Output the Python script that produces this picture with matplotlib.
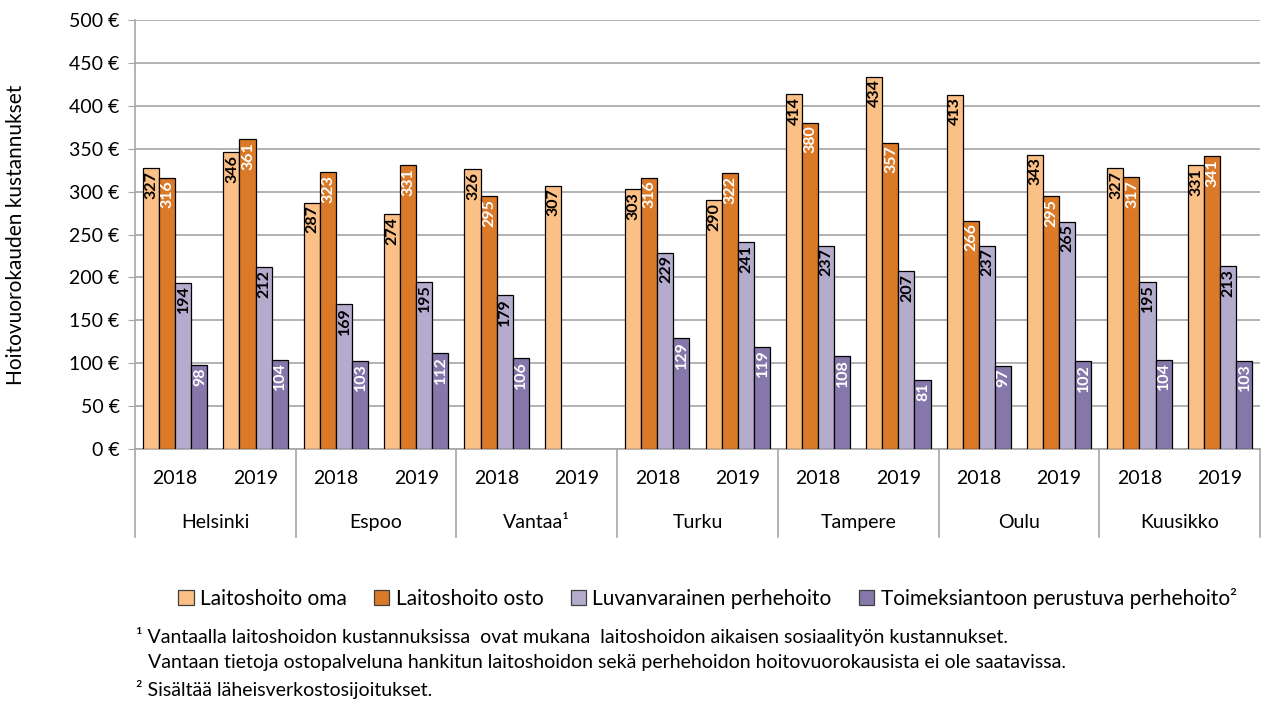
import numpy as np
import matplotlib.pyplot as plt
from matplotlib.transforms import blended_transform_factory
from matplotlib.patches import Patch

# Data
cities = ["Helsinki", "Espoo", "Vantaa¹", "Turku", "Tampere", "Oulu", "Kuusikko"]
years = ["2018", "2019"]
series = ["Laitoshoito oma", "Laitoshoito osto", "Luvanvarainen perhehoito",
          "Toimeksiantoon perustuva perhehoito²"]

# one value per (city, year), in order Helsinki 2018, Helsinki 2019, ...
oma = [327, 346, 287, 274, 326, 307, 303, 290, 414, 434, 413, 343, 327, 331]
osto = [316, 361, 323, 331, 295, np.nan, 316, 322, 380, 357, 266, 295, 317, 341]
luvanvarainen = [194, 212, 169, 195, 179, np.nan, 229, 241, 237, 207, 237, 265, 195, 213]
toimeksianto = [98, 104, 103, 112, 106, np.nan, 129, 119, 108, 81, 97, 102, 104, 103]

colors = ["#FAC086", "#DA7A29", "#B4ABCD", "#8677AB"]
label_colors = ["black", "white", "black", "white"]

plt.rcParams['font.family'] = ['Lato', 'DejaVu Sans']

fig = plt.figure(figsize=(12.63, 7.02), dpi=100)
ax = fig.add_axes([0.1069, 0.3604, 0.8907, 0.6111])

x = np.arange(len(oma))
width = 0.2
all_series = [oma, osto, luvanvarainen, toimeksianto]
for k, vals in enumerate(all_series):
    pos = x + (k - 1.5) * width
    ax.bar(pos, vals, width, color=colors[k], edgecolor="black", linewidth=0.9, zorder=3)
    for px, v in zip(pos, vals):
        if np.isnan(v):
            continue
        ax.annotate(f"{v:.0f}", (px, v), xytext=(0.5, -2), textcoords="offset points",
                    rotation=90, ha="center", va="top", fontsize=11.5,
                    fontweight="bold", color=label_colors[k], zorder=4)

ax.set_xlim(-0.5, len(oma) - 0.5)
ax.set_ylim(0, 500)
ax.set_yticks(range(0, 501, 50))
ax.set_yticklabels([f"{v} €" for v in range(0, 501, 50)])
ax.yaxis.grid(True, color="#A6A6A6", linewidth=1.2, zorder=0)
ax.tick_params(axis="y", labelsize=14, length=5, color="#A6A6A6", pad=6)
ax.set_xticks([])
for s in ["top", "right"]:
    ax.spines[s].set_visible(False)
ax.spines["left"].set_color("#A6A6A6")
ax.spines["bottom"].set_color("#A6A6A6")
ax.spines["left"].set_linewidth(1.2)
ax.spines["bottom"].set_linewidth(1.2)

ax.set_ylabel("Hoitovuorokauden kustannukset", fontsize=15)
ax.yaxis.set_label_coords(-0.097, 0.5)

# two-level category axis
trans = blended_transform_factory(ax.transData, ax.transAxes)
for i in x:
    ax.text(i, -0.068, years[i % 2], transform=trans, ha="center", va="center", fontsize=14)
for c, name in enumerate(cities):
    ax.text(2 * c + 0.5, -0.172, name, transform=trans, ha="center", va="center", fontsize=14)
for b in range(len(cities) + 1):
    ax.plot([2 * b - 0.5, 2 * b - 0.5], [0, -0.205], transform=trans, color="#A6A6A6",
            linewidth=1.2, clip_on=False)

handles = [Patch(facecolor=colors[k], edgecolor="#404040", linewidth=0.9) for k in range(4)]
fig.legend(handles, series, loc="center", bbox_to_anchor=(0.56, 0.148), ncol=4,
           frameon=False, fontsize=15, handlelength=0.75, handleheight=0.75,
           handletextpad=0.3, columnspacing=1.3)

fig.text(0.108, 0.094, "¹ Vantaalla laitoshoidon kustannuksissa  ovat mukana  laitoshoidon aikaisen sosiaalityön kustannukset.",
         fontsize=14, va="center")
fig.text(0.117, 0.056, "Vantaan tietoja ostopalveluna hankitun laitoshoidon sekä perhehoidon hoitovuorokausista ei ole saatavissa.",
         fontsize=14, va="center")
fig.text(0.108, 0.018, "² Sisältää läheisverkostosijoitukset.", fontsize=14, va="center")

fig.savefig("out.png", dpi=100)
